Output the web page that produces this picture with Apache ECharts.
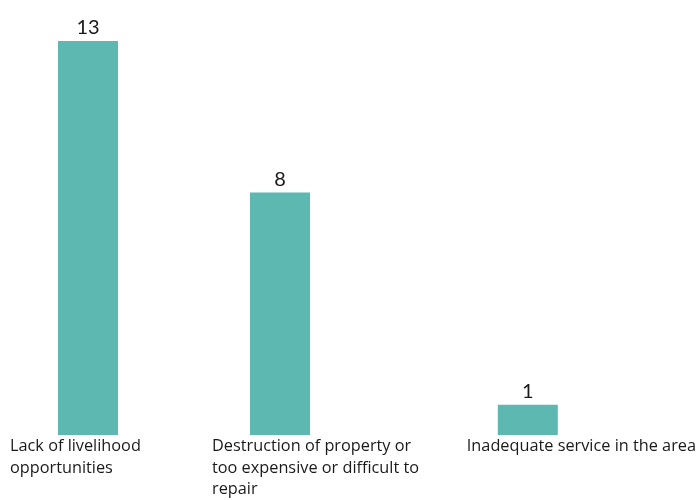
<!DOCTYPE html>
<html>
<head>
<meta charset="utf-8">
<script src="https://cdn.jsdelivr.net/npm/echarts@6/dist/echarts.min.js"></script>
<style>
  html, body { margin: 0; padding: 0; background: #ffffff; }
  #chart { width: 699px; height: 500px; }
</style>
</head>
<body>
<div id="chart"></div>
<script>
var categories = [
  'Lack of livelihood\nopportunities',
  'Destruction of property or\ntoo expensive or difficult to\nrepair',
  'Inadequate service in the area'
];
var values = [13, 8, 1];
var yMax = 13;

// one grid per bar so the uneven spacing of the original can be kept
var slots = [
  { left: 10, width: 156 },
  { left: 212, width: 136 },
  { left: 467, width: 122 }
];

var chart = echarts.init(document.getElementById('chart'), null, { renderer: 'canvas' });

var grids = [], xAxes = [], yAxes = [], series = [];
slots.forEach(function (s, i) {
  grids.push({ left: s.left, width: s.width, top: 41, bottom: 65, containLabel: false });
  xAxes.push({
    type: 'category',
    gridIndex: i,
    data: [categories[i]],
    axisLine: { show: false },
    axisTick: { show: false },
    axisLabel: {
      interval: 0,
      margin: 1,
      align: 'center',
      width: s.width,
      formatter: function (v) { return '{t|' + v + '}'; },
      rich: {
        t: { align: 'left', fontFamily: '"Open Sans", sans-serif', fontSize: 16.3, lineHeight: 21.5, color: '#1a1a1a' }
      }
    }
  });
  yAxes.push({
    type: 'value',
    gridIndex: i,
    min: 0,
    max: yMax,
    show: false,
    splitLine: { show: false }
  });
  series.push({
    type: 'bar',
    xAxisIndex: i,
    yAxisIndex: i,
    barWidth: 60,
    data: [values[i]],
    itemStyle: { color: '#5db8b2' },
    label: {
      show: true,
      position: 'top',
      distance: 3,
      color: '#1a1a1a',
      fontFamily: 'Lato, sans-serif',
      fontSize: 20
    },
    silent: true
  });
});

chart.setOption({
  backgroundColor: '#ffffff',
  animation: false,
  grid: grids,
  xAxis: xAxes,
  yAxis: yAxes,
  series: series
});
</script>
</body>
</html>
